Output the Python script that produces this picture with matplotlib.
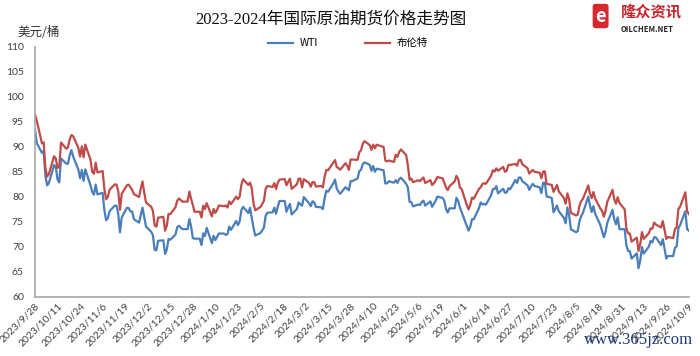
import matplotlib
matplotlib.use('Agg')
import matplotlib.pyplot as plt
import matplotlib.ticker as mticker
import matplotlib.dates as mdates
import pandas as pd

plt.rcParams['font.family'] = ['Noto Sans CJK SC', 'DejaVu Sans']

# trading days 2023/9/28 .. 2024/10/9, one row per week (Mon-Fri)
wti = [
    93.5, 90.79,
    88.82, 89.23, 84.22, 82.31, 82.79,
    86.38, 85.97, 83.49, 82.91, 87.69,
    86.66, 86.66, 88.32, 89.37, 88.08,
    85.49, 83.74, 85.39, 83.21, 85.54,
    82.31, 81.02, 80.44, 82.46, 80.51,
    80.82, 77.37, 75.33, 75.74, 77.17,
    78.26, 78.26, 76.66, 72.90, 75.89,
    77.83, 77.77, 77.10, 77.10, 75.54,
    74.86, 76.41, 77.86, 75.96, 74.07,
    73.04, 72.32, 69.38, 69.34, 71.23,
    71.32, 68.61, 69.47, 71.58, 71.43,
    72.47, 73.94, 74.22, 73.89, 73.56,
    73.56, 75.57, 74.11, 71.77, 71.65,
    71.65, 70.38, 72.70, 72.19, 73.81,
    70.77, 72.24, 71.37, 72.02, 72.68,
    72.68, 72.40, 72.56, 74.08, 73.41,
    75.19, 74.37, 75.09, 77.36, 78.01,
    76.78, 77.82, 75.85, 73.82, 72.28,
    72.78, 73.31, 73.86, 76.22, 76.84,
    76.92, 77.87, 76.64, 78.03, 79.19,
    79.19, 77.04, 77.91, 78.61, 76.49,
    77.58, 78.87, 78.54, 78.26, 79.97,
    78.74, 78.15, 79.13, 78.93, 78.01,
    77.93, 77.56, 79.72, 81.26, 81.04,
    82.72, 83.47, 81.68, 81.07, 80.63,
    81.95, 81.62, 81.35, 83.17, 83.17,
    83.71, 85.15, 85.43, 86.59, 86.91,
    86.43, 85.23, 86.21, 85.02, 85.66,
    85.41, 85.36, 82.69, 82.73, 83.14,
    82.85, 83.36, 82.81, 83.57, 83.85,
    82.63, 81.93, 79.00, 78.95, 78.11,
    78.48, 78.38, 78.99, 79.26, 78.26,
    79.12, 78.02, 78.63, 79.23, 80.06,
    79.80, 79.26, 77.57, 76.87, 77.72,
    77.72, 79.83, 79.23, 77.91, 76.99,
    74.22, 73.25, 74.07, 75.55, 75.53,
    77.74, 78.90, 78.50, 78.62, 78.45,
    80.33, 81.57, 81.57, 82.17, 80.73,
    81.63, 80.83, 80.90, 81.74, 81.54,
    83.38, 82.81, 83.88, 83.88, 83.16,
    82.33, 81.41, 82.10, 82.62, 82.21,
    81.91, 80.76, 82.85, 82.82, 80.13,
    79.78, 76.96, 77.59, 78.28, 77.16,
    75.81, 74.73, 77.91, 76.31, 73.52,
    72.94, 73.20, 75.23, 76.19, 76.84,
    80.06, 78.35, 76.98, 78.16, 76.65,
    74.37, 73.17, 71.93, 73.01, 74.83,
    77.42, 75.53, 74.52, 75.91, 73.55,
    73.55, 70.34, 69.20, 69.15, 67.67,
    68.71, 65.75, 67.31, 69.97, 68.65,
    70.09, 71.19, 70.91, 71.95, 71.92,
    70.37, 71.56, 69.69, 67.67, 68.18,
    68.17, 69.83, 70.10, 73.71, 74.38,
    77.14, 73.57, 73.24,
]

brent = [
    96.5, 95.31,
    90.71, 90.92, 85.81, 84.07, 84.58,
    88.15, 87.65, 85.82, 86.00, 90.89,
    89.65, 89.90, 91.50, 92.38, 92.16,
    89.83, 88.07, 90.13, 87.93, 90.48,
    87.45, 85.02, 84.63, 86.85, 84.89,
    85.18, 81.61, 79.54, 80.01, 81.43,
    82.52, 82.47, 81.18, 77.42, 80.61,
    82.32, 82.45, 81.96, 81.42, 80.58,
    79.98, 81.68, 83.10, 80.86, 78.88,
    78.03, 77.20, 74.30, 74.05, 75.84,
    76.03, 73.24, 74.26, 76.61, 76.55,
    77.95, 79.23, 79.70, 79.39, 79.07,
    79.07, 81.07, 79.65, 78.39, 77.04,
    77.04, 75.89, 78.25, 77.59, 78.76,
    76.12, 77.59, 76.80, 77.41, 78.29,
    78.15, 78.29, 77.88, 79.10, 78.56,
    80.06, 79.55, 80.04, 82.43, 83.55,
    82.40, 82.87, 81.71, 78.70, 77.33,
    77.99, 78.59, 79.21, 81.63, 82.19,
    82.00, 82.77, 81.60, 82.86, 83.47,
    83.56, 82.34, 83.03, 83.67, 81.62,
    82.53, 83.65, 83.68, 81.91, 83.55,
    82.80, 82.04, 82.96, 82.96, 82.08,
    82.21, 81.92, 84.03, 85.42, 85.34,
    86.89, 87.38, 85.95, 85.78, 85.43,
    86.75, 86.25, 85.41, 87.48, 87.48,
    87.42, 88.92, 89.35, 90.65, 91.17,
    90.38, 89.42, 90.48, 89.74, 90.45,
    90.10, 90.02, 87.29, 87.11, 87.29,
    87.00, 88.42, 88.02, 89.01, 89.50,
    88.40, 86.33, 83.44, 83.67, 82.96,
    83.33, 83.16, 83.58, 83.88, 82.79,
    83.36, 82.38, 82.75, 83.27, 83.98,
    83.71, 82.88, 81.90, 81.36, 82.12,
    83.10, 84.22, 83.60, 81.86, 81.62,
    78.36, 77.52, 78.41, 79.87, 79.62,
    81.63, 81.92, 82.60, 82.75, 82.62,
    84.25, 85.33, 85.07, 85.71, 85.24,
    86.01, 85.01, 85.25, 86.39, 86.41,
    86.60, 86.24, 87.34, 87.43, 86.54,
    85.75, 84.66, 85.08, 85.40, 85.03,
    84.85, 83.73, 85.08, 85.11, 82.63,
    82.40, 81.01, 81.71, 82.37, 81.13,
    79.78, 78.63, 80.72, 79.52, 76.81,
    76.30, 76.48, 78.33, 79.16, 79.66,
    82.30, 80.69, 79.76, 80.98, 79.68,
    77.66, 77.20, 76.05, 77.22, 79.02,
    81.43, 79.55, 78.65, 79.94, 78.80,
    77.52, 73.75, 72.70, 72.69, 71.06,
    71.84, 69.19, 70.61, 72.97, 71.61,
    72.75, 73.70, 73.65, 74.88, 74.49,
    73.90, 75.17, 73.46, 71.60, 71.98,
    71.77, 73.56, 73.90, 77.62, 78.05,
    80.93, 77.18, 76.58,
]

dates = pd.bdate_range('2023-09-28', '2024-10-09')
tick_dates = pd.date_range('2023-09-28', '2024-10-09', freq='13D')
yticks = list(range(60, 111, 5))

fig = plt.figure(figsize=(7, 3.56), dpi=100)
ax = fig.add_axes([0.05, 0.166, 0.934, 0.702])

ax.plot(dates, wti, color='#4A7EBB', lw=1.6, label='WTI')
ax.plot(dates, brent, color='#BE4B48', lw=1.6, label='布伦特')

ax.set_xlim(dates[0], dates[-1])
ax.set_ylim(60, 110)
ax.set_yticks(yticks)
ax.set_xticks(tick_dates)
ax.xaxis.set_major_formatter(mticker.FuncFormatter(
    lambda v, p: '{0.year}/{0.month}/{0.day}'.format(mdates.num2date(v))))

for s in ['top', 'right']:
    ax.spines[s].set_visible(False)
for s in ['left', 'bottom']:
    ax.spines[s].set_color('#A6A6A6')
    ax.spines[s].set_linewidth(1.2)
ax.tick_params(length=0, labelsize=7.5, colors='#404040', pad=8)
ax.tick_params(axis='x', pad=3)
for lab in ax.get_xticklabels():
    lab.set_rotation(45)
    lab.set_ha('right')
    lab.set_rotation_mode('anchor')
    lab.set_fontfamily(['Lato', 'DejaVu Sans'])
for lab in ax.get_yticklabels():
    lab.set_fontfamily(['Lato', 'DejaVu Sans'])

fig.text(0.472, 0.945, '2023-2024年国际原油期货价格走势图', ha='center', va='center',
         fontsize=12, family=['Liberation Serif', 'Noto Sans CJK SC'], color='#111111')
fig.text(0.025, 0.91, '美元/桶', ha='left', va='center', fontsize=9, color='#333333')

fig.legend(loc='center', bbox_to_anchor=(0.497, 0.878), ncol=2, frameon=False,
           fontsize=7.5, handlelength=2.4, columnspacing=4.5, handletextpad=0.6)

# logo top right
fig.text(0.858, 0.955, 'e', ha='center', va='center', fontsize=13, fontweight='bold',
         color='white', bbox=dict(boxstyle='round,pad=0.15', fc='#D7282F', ec='none'))
fig.text(0.887, 0.967, '隆众资讯', ha='left', va='center', fontsize=11, fontweight='bold',
         color='#C4262C')
fig.text(0.887, 0.918, 'OILCHEM.NET', ha='left', va='center', fontsize=5.5,
         fontweight='bold', color='#222222')

# watermark
fig.text(0.99, 0.045, 'www.365jz.com', ha='right', va='center', fontsize=12,
         family=['Liberation Serif'], color='#1E3A7B')

fig.savefig('out.png', dpi=100)
